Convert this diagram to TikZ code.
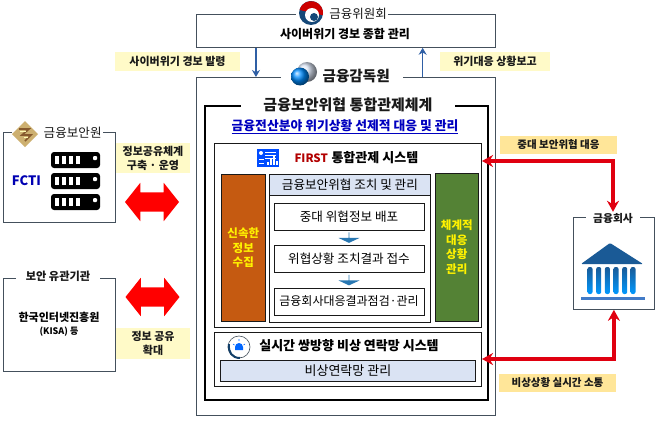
\documentclass[tikz,border=0pt]{standalone}
\usepackage{fontspec}
\setmainfont{Noto Sans CJK KR}
\usetikzlibrary{calc, arrows.meta, positioning, shapes.arrows}
\definecolor{mainBlack}{gray}{0.1}
\definecolor{frameGray}{HTML}{44505C}
\definecolor{lightBlue}{HTML}{DAE3F3}
\definecolor{paleYellow}{HTML}{FFFAC8}
\definecolor{deepYellow}{HTML}{FFE699}
\definecolor{rustOrange}{HTML}{C55A11}
\definecolor{leafGreen}{HTML}{548235}
\definecolor{arrowBlue}{HTML}{2F5FA5}
\definecolor{alarmRed}{HTML}{E00010}
\definecolor{bankBlue}{HTML}{1A5A96}
\definecolor{goldTan}{HTML}{CDB070}
\newcommand{\fsz}[1]{\fontsize{#1}{#1}\selectfont}
\tikzset{
    frame/.style={draw=frameGray, line width=0.8pt, fill=white, minimum width=#1, anchor=north west, inner sep=0pt},
    inbox/.style={draw=mainBlack, line width=0.8pt, fill=white, minimum width=150pt, minimum height=27pt, inner sep=0pt, font=\fsz{12.6}},
    gaptitle/.style={fill=white, inner sep=0pt, minimum height=12pt, text=mainBlack},
    tag/.style={fill=paleYellow, inner sep=0pt, align=center, font=\fsz{11}\bfseries, text=mainBlack},
    bigarrow/.style={double arrow, fill=red, inner xsep=0pt, inner ysep=9.5pt, minimum width=38pt, minimum height=54pt, double arrow head extend=9.5pt, double arrow tip angle=103},
    downarrow/.style={single arrow, shape border rotate=270, fill=arrowBlue!85!cyan, inner xsep=0pt, inner ysep=5pt, minimum width=21pt, minimum height=10pt, single arrow head extend=6pt, single arrow tip angle=130},
    thinarrow/.style={->, >={Stealth[length=7pt,width=8pt]}, line width=1.5pt, arrowBlue},
    redarrow/.style={<->, >={Stealth[length=11pt,width=12pt]}, line width=3.6pt, alarmRed}
}
\begin{document}
\begin{tikzpicture}[x=1pt, y=-1pt, >=stealth]
    \useasboundingbox (0,0) rectangle (658,420);

    % Top frame
    \node[frame=299pt, minimum height=33pt] (fsc) at (196,14) {};
    \node[gaptitle, minimum width=92pt, anchor=west, font=\fsz{12.5}] (fscTitle) at (296,14) {\hspace*{32pt}금융위원회};
    \node[font=\fsz{12}\bfseries] (fscText) at (345,34) {사이버위기 경보 종합 관리};

    % Taegeuk mark
    \fill[bankBlue!80!black] (311,13) circle (12);
    \fill[red!80!black] (299.5,10) arc (195:370:12) -- cycle;
    \fill[white] (312,15) circle (7);
    \fill[bankBlue!80!black] (314,17) circle (4);

    % Main frame
    \node[frame=299pt, minimum height=338pt] (fss) at (196,77) {};
    \node[gaptitle, minimum width=122pt, anchor=west, font=\fsz{14.6}\bfseries] (fssTitle) at (281,76) {\hspace*{28pt}금융감독원};
    \shade[ball color=lightBlue] (307,72) circle (10);
    \shade[ball color=blue!45!cyan] (300,76.5) circle (9);

    \draw[thinarrow] ($(fsc.south west)!.2!(fsc.south east)$) -- ($(fss.north west)!.2!(fss.north east)$);
    \draw[thinarrow] ($(fss.north west)!.756!(fss.north east)$) -- ($(fsc.south west)!.756!(fsc.south east)$);
    \node[tag, minimum width=125pt, minimum height=19pt] (warnTag) at (177.5,61.5) {사이버위기 경보 발령};
    \node[tag, minimum width=110pt, minimum height=19pt] (reportTag) at (495,61.5) {위기대응 상황보고};

    % Thick frame
    \node[draw=black, line width=2.4pt, minimum width=283pt, minimum height=294pt, anchor=north west, inner sep=0pt] (ctrl) at (204,105) {};
    \node[gaptitle, minimum width=214pt, font=\fsz{15}\bfseries] (ctrlTitle) at (348,105) {금융보안위협 통합관제체계};
    \node[text=blue!75!black, font=\fsz{12.8}\bfseries] (ctrlSub) at (345,127) {\underline{금융전산분야 위기상황 선제적 대응 및 관리}};

    % FIRST system
    \node[frame=267pt, minimum height=184pt, draw=mainBlack] (first) at (214,143) {};
    \node[anchor=west, text=red!70!black, font=\fsz{11.5}\bfseries] (firstName) at (291,158) {FIRST};
    \node[anchor=west, font=\fsz{13}\bfseries] (firstText) at (328,158) {통합관제 시스템};
    \fill[blue!70!cyan] (257,149) rectangle (279,167);
    \fill[white] (261,153) circle (2);
    \foreach \yy in {151.5,154.5,157.5} \fill[white] (265,\yy) rectangle (276,\yy+1);
    \foreach \xx/\hh in {267/3,270/6,273/9,276/4} \fill[white] (\xx,165) rectangle (\xx+1.6,165-\hh);
    \foreach \yy in {159,163} \fill[white] (259,\yy) rectangle (264,\yy+1.2);

    \node[draw=mainBlack, line width=0.6pt, fill=rustOrange, minimum width=44pt, minimum height=147pt, anchor=north west, align=center, inner sep=0pt, text=yellow, font=\fsz{11.5}\bfseries] (collect) at (221,174) {신속한\\[3pt]정보\\[3pt]수집};
    \node[frame=161pt, minimum height=148pt, draw=mainBlack] (mgmt) at (269,174) {};
    \node[frame=161pt, minimum height=21pt, draw=mainBlack, fill=lightBlue, font=\fsz{12.6}] (mgmtHead) at (269,174) {금융보안위협 조치 및 관리};
    \node[draw=mainBlack, line width=0.6pt, fill=leafGreen, minimum width=43pt, minimum height=148pt, anchor=north west, align=center, inner sep=0pt, text=yellow, font=\fsz{11.5}\bfseries] (respond) at (435,173) {체계적\\[3pt]대응\\[3pt]상황\\[3pt]관리};

    \node[inbox] (stepA) at (349,216.5) {중대 위협정보 배포};
    \node[inbox] (stepB) at (349,258.5) {위협상황 조치결과 접수};
    \node[inbox, font=\fsz{12}] (stepC) at (349,301.5) {금융회사대응결과점검·관리};
    \node[downarrow] (downA) at (349,237.5) {};
    \node[downarrow] (downB) at (349,280) {};

    % Emergency line
    \node[frame=267pt, minimum height=54pt, draw=mainBlack] (line) at (214,332) {};
    \node[font=\fsz{13}\bfseries] (lineText) at (349,346) {실시간 쌍방향 비상 연락망 시스템};
    \node[frame=255pt, minimum height=21pt, draw=mainBlack, fill=lightBlue, font=\fsz{13}] (lineBar) at (220,360) {비상연락망 관리};
    \draw[frameGray, line width=0.6pt] (239,347) circle (11);
    \fill[blue!60!cyan] (235,350) rectangle (243,347) arc (0:-180:4) -- cycle;
    \draw[blue!60!cyan, line width=0.6pt] (239,339) -- (239,341) (233,344) -- (234.5,345) (245,344) -- (243.5,345);
    \draw[bankBlue!70!black, line width=2pt] (229,344) .. controls (228,352) and (232,358) .. (240,358);

    % Left side
    \node[frame=112pt, minimum height=90pt] (fsec) at (3,132) {};
    \node[gaptitle, minimum width=91pt, anchor=west, font=\fsz{12.6}] (fsecTitle) at (12,133) {\hspace*{30pt}금융보안원};
    \fill[goldTan] (25,121) -- (38,134) -- (25,147) -- (12,134) -- cycle;
    \draw[brown!70!black, line width=1.6pt] (19,129) -- (29,129) -- (22,135) -- (31,135) -- (25,141);
    \draw[yellow!30, line width=0.6pt] (20,131.5) -- (26,131.5) (24,137.5) -- (28,137.5);
    \node[text=blue!70!black, font=\fsz{13}\bfseries] (fcti) at (26.5,181) {FCTI};
    \foreach \yy in {152,173,194} {
        \fill[black, rounded corners=3] (51,\yy) rectangle (100,\yy+16);
        \foreach \xx in {55,62,69,76} \fill[white] (\xx,\yy+4) rectangle (\xx+4,\yy+12);
        \fill[white, rounded corners=1] (93,\yy+4) rectangle (97,\yy+8);
    }
    \node[tag, minimum width=74pt, minimum height=30pt] (fsecTag) at (153,158) {정보공유체계\\[3pt]구축 · 운영};
    \node[bigarrow] (shareA) at (152,202) {};

    \node[frame=112pt, minimum height=93pt] (kisa) at (3,278) {};
    \node[gaptitle, minimum width=84pt, font=\fsz{11.2}\bfseries] (kisaTitle) at (58,276) {보안 유관기관};
    \node[font=\fsz{11}\bfseries, align=center] (kisaText) at (59,324) {한국인터넷진흥원\\[2pt]{\fsz{9}(KISA) 등}};
    \node[bigarrow] (shareB) at (152.5,297) {};
    \node[tag, minimum width=74pt, minimum height=31pt] (kisaTag) at (153,343) {정보 공유\\[3pt]확대};

    % Right side
    \node[frame=81pt, minimum height=92pt] (bank) at (573,217) {};
    \node[gaptitle, minimum width=54pt, font=\fsz{10.8}\bfseries] (bankTitle) at (613,218) {금융회사};
    \fill[bankBlue, rounded corners=1] (610,243) -- (643,264) -- (581,264) -- cycle;
    \foreach \xx in {590,598.7,607.4,616,624.7,633} \shade[top color=bankBlue, bottom color=cyan!60!blue, rounded corners=2] (\xx-2.5,267) rectangle (\xx+2.5,294);
    \fill[cyan!45!blue!80] (581,297) rectangle (645,300);

    \node[tag, fill=deepYellow, minimum width=117pt, minimum height=18pt, font=\fsz{10.5}\bfseries] (threatTag) at (558.5,145) {중대 보안위협 대응};
    \node[tag, fill=deepYellow, minimum width=117pt, minimum height=18pt, font=\fsz{10.5}\bfseries] (alertTag) at (557.5,383) {비상상황 실시간 소통};

    \coordinate (firstIn) at (482,161);
    \coordinate (lineIn) at (482,359);
    \draw[redarrow] (firstIn) -| (bankTitle.north);
    \draw[redarrow] (lineIn) -| (bank.south);
\end{tikzpicture}
\end{document}
